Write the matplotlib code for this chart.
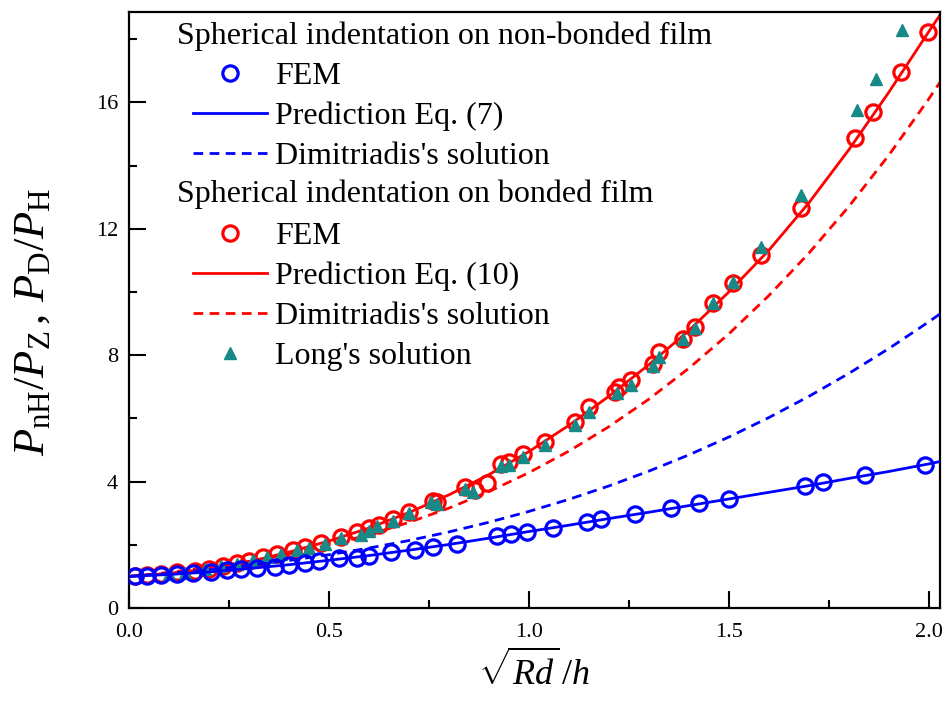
import matplotlib
matplotlib.use("Agg")
import matplotlib.pyplot as plt
from matplotlib.lines import Line2D
from matplotlib.ticker import MultipleLocator

plt.rcParams['font.family'] = ['Liberation Serif', 'DejaVu Serif']
plt.rcParams['mathtext.fontset'] = 'custom'
plt.rcParams['mathtext.rm'] = 'Liberation Serif'
plt.rcParams['mathtext.it'] = 'Liberation Serif:italic'
plt.rcParams['mathtext.bf'] = 'Liberation Serif:bold'

# ---------------- data ----------------
# Non-bonded film: FEM
nb_fem_x = [0.015, 0.045, 0.08, 0.12, 0.16, 0.205, 0.245, 0.28, 0.32, 0.365, 0.40, 0.44,
            0.475, 0.525, 0.57, 0.60, 0.655, 0.715, 0.76, 0.82, 0.92, 0.955, 0.995, 1.06,
            1.145, 1.18, 1.265, 1.355, 1.425, 1.50, 1.69, 1.735, 1.84, 1.99]
nb_fem_y = [1.00, 1.02, 1.05, 1.08, 1.11, 1.15, 1.19, 1.23, 1.28, 1.30, 1.36, 1.42,
            1.48, 1.58, 1.58, 1.66, 1.76, 1.85, 1.93, 2.04, 2.27, 2.34, 2.42, 2.54,
            2.73, 2.81, 2.97, 3.18, 3.31, 3.46, 3.86, 3.98, 4.20, 4.52]

# curves sampled on a common abscissa
curve_x = [0.0, 0.1, 0.2, 0.3, 0.4, 0.5, 0.6, 0.7, 0.8, 0.9, 1.0, 1.1, 1.2, 1.3, 1.4,
           1.5, 1.6, 1.7, 1.8, 1.9, 2.0, 2.03]
# Prediction Eq. (7) (non-bonded)
nb_pred_y = [1.00, 1.06, 1.14, 1.25, 1.37, 1.51, 1.66, 1.83, 2.01, 2.21, 2.42, 2.62,
             2.83, 3.03, 3.24, 3.45, 3.66, 3.87, 4.10, 4.32, 4.56, 4.64]
# Dimitriadis's solution (non-bonded)
nb_dim_y = [1.000, 1.097, 1.211, 1.346, 1.503, 1.686, 1.896, 2.135, 2.407, 2.713, 3.056,
            3.438, 3.862, 4.331, 4.846, 5.410, 6.026, 6.696, 7.423, 8.209, 9.057, 9.323]
# Prediction Eq. (10) (bonded)
b_pred_y = [1.00, 1.10, 1.24, 1.46, 1.77, 2.12, 2.53, 3.02, 3.58, 4.22, 4.95, 5.78,
            6.70, 7.70, 8.78, 10.00, 11.32, 12.82, 14.50, 16.32, 18.24, 18.80]
# Dimitriadis's solution (bonded)
b_dim_y = [1.000, 1.127, 1.284, 1.477, 1.710, 1.989, 2.320, 2.709, 3.161, 3.684, 4.283,
           4.965, 5.738, 6.609, 7.586, 8.675, 9.886, 11.226, 12.705, 14.329, 16.110, 16.676]

# Bonded film: FEM
b_fem_x = [0.015, 0.045, 0.08, 0.12, 0.165, 0.20, 0.235, 0.27, 0.30, 0.335, 0.37, 0.41,
           0.44, 0.48, 0.53, 0.57, 0.60, 0.625, 0.66, 0.70, 0.76, 0.77, 0.84, 0.865,
           0.895, 0.93, 0.95, 0.985, 1.04, 1.115, 1.15, 1.215, 1.225, 1.255, 1.31, 1.325,
           1.385, 1.415, 1.46, 1.51, 1.58, 1.68, 1.815, 1.86, 1.93, 1.998]
b_fem_y = [1.00, 1.04, 1.09, 1.13, 1.16, 1.24, 1.33, 1.42, 1.48, 1.60, 1.72, 1.84,
           1.93, 2.06, 2.25, 2.40, 2.52, 2.62, 2.82, 3.05, 3.40, 3.35, 3.84, 3.73,
           3.95, 4.55, 4.62, 4.88, 5.25, 5.90, 6.35, 6.85, 7.00, 7.20, 7.72, 8.10,
           8.52, 8.88, 9.66, 10.27, 11.17, 12.65, 14.88, 15.71, 16.97, 18.24]

# Long's solution
long_x = [0.10, 0.14, 0.19, 0.23, 0.27, 0.31, 0.345, 0.38, 0.42, 0.45, 0.49, 0.53, 0.58,
          0.60, 0.62, 0.66, 0.70, 0.755, 0.77, 0.84, 0.86, 0.93, 0.95, 0.985, 1.04, 1.115,
          1.15, 1.22, 1.255, 1.31, 1.325, 1.385, 1.415, 1.46, 1.51, 1.58, 1.68, 1.82,
          1.867, 1.933]
long_y = [1.08, 1.12, 1.22, 1.32, 1.40, 1.52, 1.62, 1.72, 1.84, 1.90, 2.02, 2.20, 2.30,
          2.45, 2.60, 2.76, 3.00, 3.36, 3.30, 3.78, 3.68, 4.49, 4.53, 4.79, 5.16, 5.79,
          6.21, 6.79, 7.06, 7.66, 7.95, 8.50, 8.85, 9.64, 10.33, 11.43, 13.07, 15.76,
          16.74, 18.29]

x_ticks = [0.0, 0.5, 1.0, 1.5, 2.0]
y_ticks = [0, 4, 8, 12, 16]

title_nb = "Spherical indentation on non-bonded film"
title_b = "Spherical indentation on bonded film"

BLUE = '#0000ff'
RED = '#ff0000'
TEAL = '#178a88'

# ---------------- figure ----------------
fig = plt.figure(figsize=(9.47, 7.09), dpi=100)
ax = fig.add_axes([129/947, 1-608/709, (940-129)/947, (608-12)/709])

lw = 2.0
dash = (3.5, 2.3)

ax.plot(curve_x, b_dim_y, color=RED, lw=lw, ls=(0, dash), zorder=2)
ax.plot(curve_x, b_pred_y, color=RED, lw=lw, zorder=2)
ax.plot(b_fem_x, b_fem_y, ls='none', marker='o', ms=11, mfc='none', mec=RED, mew=2.3, zorder=3)
ax.plot(long_x, long_y, ls='none', marker='^', ms=9, color=TEAL, mec=TEAL, zorder=4)
ax.plot(curve_x, nb_dim_y, color=BLUE, lw=lw, ls=(0, dash), zorder=5)
ax.plot(curve_x, nb_pred_y, color=BLUE, lw=lw, zorder=5)
ax.plot(nb_fem_x, nb_fem_y, ls='none', marker='o', ms=11, mfc='none', mec=BLUE, mew=2.3, zorder=6)

ax.set_xlim(0, 2.028)
ax.set_ylim(0, 18.86)
ax.set_xticks(x_ticks)
ax.set_xticklabels([f"{v:.1f}" for v in x_ticks])
ax.set_yticks(y_ticks)
ax.set_yticklabels([str(v) for v in y_ticks])
ax.xaxis.set_minor_locator(MultipleLocator(0.25))
ax.yaxis.set_minor_locator(MultipleLocator(2))
ax.tick_params(which='both', direction='in', top=False, right=False, width=1.5,
               labelsize=16)
ax.tick_params(which='major', length=12)
ax.tick_params(which='minor', length=6)
ax.tick_params(axis='x', pad=11)
ax.tick_params(axis='y', pad=8)
for s in ax.spines.values():
    s.set_linewidth(1.6)

ax.set_xlabel(r"$\sqrt{Rd}\,/h$", fontsize=26, labelpad=6)
ax.set_ylabel(r"$P_{\mathrm{nH}}/P_{\mathrm{Z}}\,,\,P_{\mathrm{D}}/P_{\mathrm{H}}$",
              fontsize=32)
ax.yaxis.set_label_coords(-0.094, 0.48)

# ---------------- legend ----------------
blank = Line2D([], [], ls='none')
handles = [blank,
           Line2D([], [], ls='none', marker='o', ms=11, mfc='none', mec=BLUE, mew=2.3),
           Line2D([], [], color=BLUE, lw=lw),
           Line2D([], [], color=BLUE, lw=lw, ls=(0, dash)),
           blank,
           Line2D([], [], ls='none', marker='o', ms=11, mfc='none', mec=RED, mew=2.3),
           Line2D([], [], color=RED, lw=lw),
           Line2D([], [], color=RED, lw=lw, ls=(0, dash)),
           Line2D([], [], ls='none', marker='^', ms=9, color=TEAL)]
labels = [' ', 'FEM', 'Prediction Eq. (7)', "Dimitriadis's solution",
          ' ', 'FEM', 'Prediction Eq. (10)', "Dimitriadis's solution", "Long's solution"]
leg = ax.legend(handles, labels, loc='upper left', bbox_to_anchor=(0.079, 0.983),
                frameon=False, fontsize=23, handlelength=2.32, handletextpad=0.25,
                labelspacing=0.33, borderpad=0, borderaxespad=0)

ax.text(0.059, 0.959, title_nb, transform=ax.transAxes, fontsize=23, va='center', ha='left')
ax.text(0.059, 0.694, title_b, transform=ax.transAxes, fontsize=23, va='center', ha='left')

fig.savefig("out.png", dpi=100)
